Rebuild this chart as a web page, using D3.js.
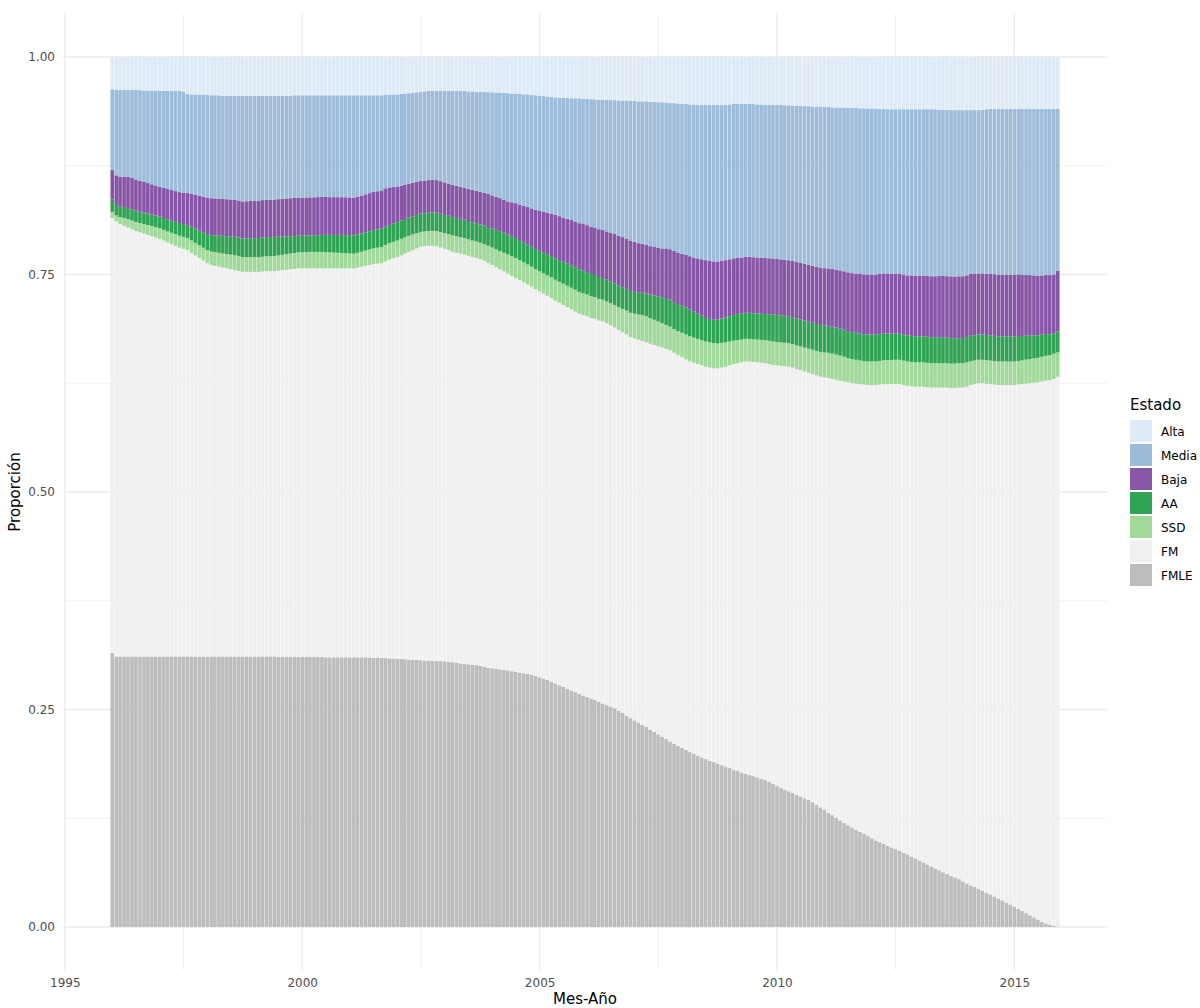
<!DOCTYPE html>
<html>
<head>
<meta charset="utf-8">
<script src="https://cdn.jsdelivr.net/npm/d3@7"></script>
<style>
  body { margin: 0; background: #fff; }
  text { font-family: "DejaVu Sans", sans-serif; }
</style>
</head>
<body>
<div id="graph_here"></div>
<script>
// estados, de arriba hacia abajo en la leyenda
const estados = ["Alta", "Media", "Baja", "AA", "SSD", "FM", "FMLE"];
const colores = ["#deebf7", "#9ebcda", "#8856a7", "#31a354", "#a1d99b", "#f0f0f0", "#bdbdbd"];

// un valor por mes, ene-1996 .. dic-2015 (12 por linea)
const fmle = [
  .315,.311,.311,.311,.311,.311,.311,.311,.311,.311,.311,.311,
  .311,.311,.311,.311,.311,.311,.311,.311,.311,.311,.311,.311,
  .311,.311,.311,.311,.311,.311,.311,.311,.311,.311,.311,.311,
  .311,.311,.311,.311,.311,.311,.3105,.3105,.3105,.3105,.3105,.3105,
  .3105,.3105,.3105,.3105,.3105,.3105,.310,.310,.310,.310,.310,.310,
  .310,.310,.310,.310,.310,.3098,.3096,.3094,.3092,.309,.3088,.3086,
  .3084,.3081,.3078,.3075,.3072,.3069,.3066,.3063,.306,.3058,.3057,.3056,
  .3055,.305,.3045,.304,.303,.3025,.302,.3015,.301,.300,.299,.298,
  .2975,.297,.296,.2955,.295,.294,.2932,.2924,.2916,.2908,.290,.2885,
  .287,.2855,.284,.282,.280,.278,.276,.274,.272,.270,.268,.2662,
  .2645,.2628,.261,.259,.257,.255,.2535,.2515,.2485,.246,.243,.240,
  .2375,.235,.2325,.230,.227,.2243,.2215,.2188,.216,.2132,.2105,.208,
  .2058,.2035,.201,.199,.197,.195,.193,.191,.1895,.1878,.1861,.1844,
  .1827,.181,.1793,.1776,.1762,.1748,.1734,.172,.1705,.169,.1667,.1643,
  .162,.160,.158,.156,.154,.152,.150,.148,.146,.1435,.1405,.1375,
  .1345,.1315,.1285,.1255,.1225,.1195,.117,.1145,.112,.1095,.107,.1045,
  .102,.0995,.0975,.0955,.0935,.0915,.0895,.0875,.0855,.0835,.081,.0788,
  .0765,.0742,.072,.0697,.0675,.0652,.063,.061,.059,.057,.055,.0525,
  .050,.0478,.046,.044,.0418,.0395,.0372,.035,.0327,.0305,.028,.0258,
  .0235,.021,.0185,.016,.0135,.011,.0085,.006,.0042,.0028,.0015,.0005
];
const fm = [
  .500,.500,.497,.495,.493,.491,.489,.4875,.486,.4845,.483,.4815,
  .480,.478,.476,.474,.472,.470,.4685,.467,.464,.461,.458,.455,
  .452,.450,.449,.448,.447,.446,.445,.444,.443,.442,.442,.442,
  .442,.442,.4425,.443,.443,.443,.444,.4445,.445,.4455,.446,.4465,
  .4465,.4465,.4465,.4465,.4465,.4465,.447,.447,.447,.447,.447,.447,
  .447,.447,.448,.449,.450,.4512,.4524,.4531,.4538,.456,.4582,.4599,
  .4616,.4639,.4662,.4685,.4708,.4731,.4754,.4762,.477,.4772,.4768,.4754,
  .474,.473,.4715,.471,.471,.4705,.4695,.4685,.468,.4675,.467,.4655,
  .4635,.4615,.460,.458,.456,.4545,.4528,.4511,.4494,.4477,.446,.4445,
  .4435,.4425,.4415,.441,.440,.4395,.439,.4385,.438,.4375,.437,.4373,
  .4375,.4372,.438,.438,.439,.439,.438,.4375,.4375,.4375,.438,.438,
  .439,.440,.441,.442,.4435,.4447,.446,.4472,.4485,.4498,.4495,.4495,
  .4492,.449,.449,.4495,.450,.4505,.451,.452,.4525,.4542,.4569,.4596,
  .4628,.466,.4687,.4714,.4738,.4752,.4761,.477,.478,.479,.4803,.4817,
  .4835,.485,.4865,.488,.489,.4895,.490,.4905,.491,.492,.4935,.495,
  .497,.4995,.5015,.5035,.5055,.5075,.509,.5105,.5125,.5145,.5165,.5185,
  .521,.5235,.526,.5285,.5305,.5325,.5345,.5365,.5375,.5385,.5405,.5422,
  .5445,.5468,.5485,.5503,.5525,.5548,.557,.559,.5605,.5625,.565,.5675,
  .571,.5752,.578,.581,.5832,.585,.5868,.5885,.5903,.5925,.595,.5972,
  .5995,.6025,.6055,.6085,.6115,.6145,.6175,.621,.6238,.6257,.6285,.632
];
const ssd = [
  .007,.007,.008,.009,.0095,.010,.0103,.0106,.011,.0113,.0116,.0118,
  .012,.0123,.0126,.013,.0133,.0136,.0138,.014,.0142,.0144,.0146,.0148,
  .015,.0153,.0156,.0159,.0162,.0165,.0168,.017,.017,.017,.017,.017,
  .017,.017,.017,.017,.017,.0172,.0174,.0176,.0178,.018,.0182,.0184,
  .0186,.0188,.019,.019,.019,.019,.0188,.0185,.0182,.018,.0178,.0175,
  .0172,.017,.017,.0172,.0175,.0178,.018,.0183,.0186,.019,.019,.019,
  .019,.019,.0188,.0185,.018,.0175,.017,.017,.017,.0172,.0175,.0178,
  .018,.0185,.019,.019,.019,.019,.019,.019,.019,.019,.019,.0195,
  .020,.0205,.021,.0215,.022,.0225,.023,.023,.023,.023,.023,.023,
  .0232,.0234,.0236,.0238,.024,.0242,.0244,.0246,.0248,.025,.025,.025,
  .025,.025,.025,.025,.025,.025,.0255,.026,.0265,.027,.0275,.028,
  .0285,.029,.030,.030,.0295,.029,.0285,.028,.0275,.027,.0272,.0275,
  .028,.0285,.029,.029,.029,.029,.029,.029,.029,.0287,.0285,.028,
  .0275,.027,.0265,.026,.026,.026,.026,.0262,.0264,.0266,.0268,.027,
  .027,.027,.027,.027,.027,.027,.0272,.0275,.0278,.028,.0282,.0285,
  .0288,.029,.029,.029,.0288,.0285,.028,.0278,.0275,.0272,.027,.027,
  .027,.027,.0272,.0274,.0276,.0278,.028,.028,.028,.028,.028,.028,
  .028,.028,.028,.028,.028,.028,.028,.028,.028,.028,.028,.028,
  .028,.0276,.0272,.027,.027,.027,.027,.027,.027,.027,.027,.027,
  .027,.0272,.0274,.0276,.0278,.028,.0282,.0284,.0286,.0288,.029,.028
];
const aa = [
  .014,.012,.012,.0125,.013,.013,.013,.013,.013,.0132,.0133,.0134,
  .0135,.0137,.0139,.0141,.0143,.0145,.0147,.015,.0157,.0164,.0171,.0178,
  .0185,.019,.0194,.0198,.0202,.0206,.021,.0213,.0215,.0215,.0215,.0217,
  .0218,.022,.022,.022,.022,.022,.0215,.021,.0205,.020,.0196,.0193,
  .019,.019,.019,.019,.0192,.0195,.0198,.020,.0203,.0206,.0208,.021,
  .021,.021,.021,.021,.021,.021,.021,.021,.021,.021,.021,.021,
  .021,.021,.021,.021,.021,.021,.021,.021,.021,.021,.021,.021,
  .021,.021,.021,.021,.021,.021,.021,.021,.021,.021,.0213,.0216,
  .022,.0224,.0228,.023,.023,.023,.023,.023,.023,.023,.023,.0233,
  .0235,.0238,.024,.0243,.0246,.0249,.0252,.0255,.0258,.026,.026,.026,
  .0258,.0256,.0254,.0252,.025,.025,.025,.025,.025,.025,.025,.025,
  .025,.025,.0255,.026,.027,.028,.029,.030,.031,.031,.031,.031,
  .031,.031,.031,.030,.029,.028,.027,.027,.027,.0275,.028,.0285,
  .029,.0295,.030,.030,.030,.030,.030,.030,.030,.030,.0305,.031,
  .031,.031,.031,.031,.031,.031,.031,.031,.031,.031,.031,.031,
  .031,.031,.031,.031,.031,.031,.031,.031,.031,.031,.031,.031,
  .031,.031,.031,.0308,.0305,.0302,.030,.030,.030,.030,.030,.030,
  .030,.030,.030,.030,.030,.030,.0298,.0296,.0294,.0292,.029,.029,
  .029,.029,.029,.029,.029,.029,.029,.029,.029,.029,.029,.029,
  .029,.0285,.028,.0275,.027,.0265,.026,.0255,.025,.024,.023,.024
];
const baja = [
  .034,.034,.0345,.035,.0355,.036,.036,.0357,.0354,.0351,.0348,.0346,
  .0345,.0345,.0347,.035,.0353,.0356,.036,.037,.038,.039,.040,.041,
  .042,.0425,.0425,.0425,.0425,.0425,.0425,.0425,.0425,.0425,.0427,.0428,
  .043,.043,.043,.043,.043,.043,.0432,.0434,.0436,.0437,.0437,.0437,
  .0437,.0437,.0437,.0437,.0437,.0436,.0435,.0434,.0434,.0433,.0433,.0433,
  .0433,.0433,.0434,.0435,.0436,.0437,.0438,.0439,.044,.044,.043,.042,
  .041,.040,.0395,.039,.0385,.038,.0375,.0375,.0375,.0375,.0375,.0375,
  .0373,.0371,.037,.037,.037,.037,.037,.0372,.0374,.0376,.0378,.038,
  .038,.038,.038,.038,.038,.039,.040,.041,.042,.043,.044,.045,
  .046,.047,.048,.049,.050,.0505,.051,.0515,.052,.0525,.053,.0535,
  .054,.0543,.0546,.0549,.0552,.0555,.056,.0565,.057,.0575,.0575,.0575,
  .0575,.057,.0565,.056,.0556,.0556,.0556,.056,.057,.058,.059,.0594,
  .060,.0605,.061,.062,.0635,.065,.0665,.067,.067,.0668,.0665,.066,
  .0655,.065,.0645,.0644,.0644,.0644,.0644,.0644,.0644,.0644,.0644,.0644,
  .0644,.0644,.0644,.0644,.0646,.0648,.065,.0652,.0654,.0656,.0658,.066,
  .066,.066,.0663,.0666,.0669,.0672,.0675,.0678,.0681,.0684,.0687,.069,
  .069,.069,.069,.069,.069,.069,.069,.069,.069,.069,.0695,.0697,
  .0697,.0697,.070,.070,.070,.0705,.0705,.0705,.071,.071,.071,.071,
  .071,.071,.0705,.0701,.0703,.0705,.0707,.0709,.0709,.0709,.0709,.0709,
  .0709,.0709,.0705,.070,.0695,.069,.0685,.068,.068,.068,.068,.070
];
const media = [
  .093,.098,.0995,.0995,.100,.101,.1027,.1042,.1051,.1064,.1078,.1087,
  .110,.1115,.1128,.1139,.1151,.1163,.1165,.114,.1141,.1152,.1163,.1169,
  .118,.1182,.1185,.1188,.1186,.1189,.1192,.1197,.1205,.1215,.1213,.121,
  .1207,.1205,.120,.1195,.1195,.1193,.1189,.1185,.1181,.1178,.118,.1176,
  .1177,.1175,.1173,.1173,.1171,.1169,.1169,.1171,.1171,.1171,.1171,.1172,
  .1175,.1177,.1166,.1153,.1139,.1125,.1112,.1103,.1094,.1073,.1066,.1065,
  .106,.1055,.1047,.104,.1035,.103,.1025,.1025,.1025,.1023,.1025,.1037,
  .1052,.1064,.108,.109,.110,.111,.112,.1133,.1136,.1149,.1159,.1169,
  .1185,.1196,.1212,.123,.1245,.125,.126,.127,.128,.1295,.1305,.1317,
  .1323,.1328,.1334,.1339,.1349,.1359,.1374,.1389,.1399,.1415,.1435,.144,
  .1452,.1466,.1475,.1489,.1498,.1515,.1525,.154,.1555,.157,.159,.161,
  .162,.163,.1635,.165,.1659,.1669,.1674,.168,.1675,.168,.1698,.1711,
  .172,.1735,.1745,.176,.1765,.1775,.1785,.179,.180,.180,.179,.1785,
  .178,.1775,.177,.1766,.1756,.1756,.1761,.1759,.1762,.176,.1763,.1766,
  .1771,.1776,.1776,.1781,.1784,.1797,.1808,.1813,.1823,.1829,.184,.185,
  .1852,.1855,.1857,.1864,.1873,.1883,.189,.1899,.1904,.1904,.1908,.191,
  .191,.1905,.1898,.1893,.1889,.189,.189,.189,.190,.191,.191,.1913,
  .1913,.1913,.1915,.192,.192,.191,.1912,.1914,.1911,.1913,.191,.191,
  .190,.1884,.1883,.1879,.1882,.189,.1898,.1901,.1906,.1906,.1906,.1906,
  .1906,.1904,.1906,.1909,.1912,.1915,.1918,.1916,.1909,.1912,.1905,.186
];
const alta = [
  .037,.038,.038,.038,.038,.038,.038,.038,.0385,.0385,.0385,.039,
  .039,.039,.039,.039,.039,.039,.0395,.042,.043,.043,.043,.0435,
  .0435,.044,.044,.044,.0445,.0445,.0445,.0445,.0445,.0445,.0445,.0445,
  .0445,.0445,.0445,.0445,.0445,.0445,.0445,.0445,.0445,.0445,.044,.044,
  .044,.044,.044,.044,.044,.044,.044,.044,.044,.044,.044,.044,
  .044,.044,.044,.044,.044,.044,.044,.044,.044,.0437,.0434,.043,
  .043,.0425,.042,.0415,.041,.0405,.040,.0395,.039,.039,.039,.039,
  .039,.039,.039,.039,.039,.039,.0395,.0395,.040,.040,.040,.0405,
  .0405,.041,.041,.041,.0415,.042,.042,.0425,.043,.043,.0435,.044,
  .0445,.045,.0455,.046,.0465,.047,.047,.047,.0475,.0475,.0475,.048,
  .048,.0485,.0485,.049,.049,.049,.0495,.0495,.050,.050,.050,.0505,
  .0505,.051,.051,.051,.0515,.0515,.052,.052,.0525,.053,.053,.0535,
  .054,.054,.0545,.0545,.055,.055,.055,.055,.055,.055,.055,.055,
  .0545,.054,.054,.054,.054,.054,.054,.0545,.0545,.055,.055,.055,
  .055,.055,.0555,.0555,.056,.056,.056,.0565,.0565,.057,.057,.057,
  .0575,.0575,.058,.058,.058,.058,.0585,.0585,.0585,.059,.059,.059,
  .059,.0595,.0595,.0595,.060,.060,.060,.060,.060,.060,.060,.060,
  .060,.060,.060,.060,.060,.0605,.0605,.0605,.061,.061,.061,.061,
  .061,.061,.061,.061,.0605,.060,.0595,.0595,.0595,.0595,.0595,.0595,
  .0595,.0595,.0595,.0595,.0595,.0595,.0595,.0595,.0595,.0595,.0595,.0595
];

const xTicks = [1995, 2000, 2005, 2010, 2015];
const xMinor = [1997.5, 2002.5, 2007.5, 2012.5];
const yTicks = [0, 0.25, 0.5, 0.75, 1];
const yMinor = [0.125, 0.375, 0.625, 0.875];

function drawChart() {
  const width = 1200, height = 1008;
  const left = 63, right = 1107, top = 13.5, bottom = 970.5;

  const meses = d3.timeMonth.range(new Date(1996, 0, 1), new Date(2016, 0, 1));
  const series = { Alta: alta, Media: media, Baja: baja, AA: aa, SSD: ssd, FM: fm, FMLE: fmle };
  // tabla para d3.stack
  const table = meses.map((m, i) => {
    const row = { mes: m };
    estados.forEach(k => row[k] = series[k][i]);
    return row;
  });

  const svg = d3.select("#graph_here").append("svg")
    .attr("width", width).attr("height", height)
    .style("background", "#fff");

  const toDate = y => new Date(Date.UTC(Math.floor(y), 0, 1) + (y % 1) * 365.25 * 864e5);
  const xScale = d3.scaleTime()
    .domain([new Date(1994, 11, 18), new Date(2016, 11, 14)])
    .range([left, right]);
  const yScale = d3.scaleLinear().domain([-0.05, 1.05]).range([bottom, top]);
  const colorScale = d3.scaleOrdinal().domain(estados).range(colores);

  // rejilla
  const grid = svg.append("g");
  grid.selectAll(".ymin").data(yMinor).enter().append("line")
    .attr("x1", left).attr("x2", right)
    .attr("y1", d => yScale(d)).attr("y2", d => yScale(d))
    .attr("stroke", "#ebebeb").attr("stroke-width", 0.7);
  grid.selectAll(".xmin").data(xMinor).enter().append("line")
    .attr("x1", d => xScale(toDate(d))).attr("x2", d => xScale(toDate(d)))
    .attr("y1", top).attr("y2", bottom)
    .attr("stroke", "#ebebeb").attr("stroke-width", 0.7);
  grid.selectAll(".ymaj").data(yTicks).enter().append("line")
    .attr("x1", left).attr("x2", right)
    .attr("y1", d => yScale(d)).attr("y2", d => yScale(d))
    .attr("stroke", "#ebebeb").attr("stroke-width", 1.3);
  grid.selectAll(".xmaj").data(xTicks).enter().append("line")
    .attr("x1", d => xScale(new Date(d, 0, 1))).attr("x2", d => xScale(new Date(d, 0, 1)))
    .attr("y1", top).attr("y2", bottom)
    .attr("stroke", "#ebebeb").attr("stroke-width", 1.3);

  // barras apiladas
  const stack = d3.stack()
    .keys(estados.slice().reverse())
    .offset(d3.stackOffsetExpand);
  const stacked = stack(table);

  const step = xScale(meses[1]) - xScale(meses[0]);
  const bw = step * 0.9;

  const layers = svg.append("g").selectAll("g")
    .data(stacked)
    .enter()
    .append("g")
    .attr("fill", d => colorScale(d.key));

  layers.selectAll("rect")
    .data(d => d)
    .enter()
    .append("rect")
    .attr("x", d => xScale(d.data.mes) - bw / 2)
    .attr("width", bw)
    .attr("y", d => yScale(d[1]))
    .attr("height", d => yScale(d[0]) - yScale(d[1]));

  // ejes
  const yAxis = d3.axisLeft(yScale).tickValues(yTicks).tickSize(0).tickPadding(8)
    .tickFormat(d3.format(".2f"));
  const gy = svg.append("g").attr("transform", "translate(" + left + ",0)").call(yAxis);
  gy.select(".domain").remove();
  gy.selectAll("text").attr("fill", "#4d4d4d").style("font-size", "12px")
    .style("font-family", "DejaVu Sans");

  const xAxis = d3.axisBottom(xScale).tickValues(xTicks.map(d => new Date(d, 0, 1)))
    .tickSize(0).tickPadding(8).tickFormat(d3.timeFormat("%Y"));
  const gx = svg.append("g").attr("transform", "translate(0," + bottom + ")").call(xAxis);
  gx.select(".domain").remove();
  gx.selectAll("text").attr("fill", "#4d4d4d").style("font-size", "12px")
    .style("font-family", "DejaVu Sans");

  svg.append("text")
    .attr("x", (left + right) / 2).attr("y", 1004)
    .attr("text-anchor", "middle")
    .style("font-size", "15px")
    .text("Mes-Año");

  svg.append("text")
    .attr("transform", "translate(20," + ((top + bottom) / 2) + ") rotate(-90)")
    .attr("text-anchor", "middle")
    .style("font-size", "15px")
    .text("Proporción");

  // leyenda
  const legend = svg.append("g").attr("transform", "translate(1130,0)");
  legend.append("text").attr("x", 0).attr("y", 410)
    .style("font-size", "15px").text("Estado");
  const items = legend.selectAll(".item").data(estados).enter().append("g")
    .attr("transform", (d, i) => "translate(0," + (420 + i * 24) + ")");
  items.append("rect")
    .attr("width", 22).attr("height", 22)
    .attr("fill", d => colorScale(d));
  items.append("text")
    .attr("x", 31).attr("y", 15.5)
    .style("font-size", "12px")
    .text(d => d);
}

window.addEventListener("load", drawChart);
</script>
</body>
</html>
